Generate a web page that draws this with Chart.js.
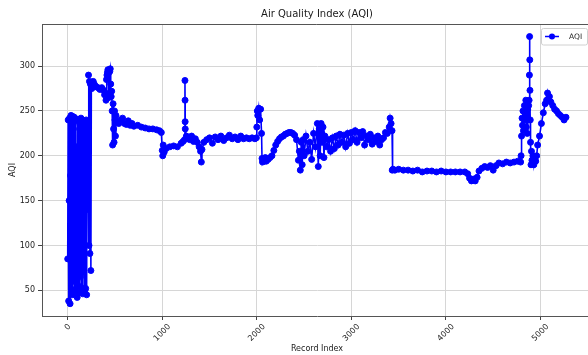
<!DOCTYPE html>
<html>
<head>
<meta charset="utf-8">
<script src="https://cdn.jsdelivr.net/npm/chart.js"></script>
<style>
  html, body { margin: 0; padding: 0; overflow: hidden; background: #fff; }
  #wrap { width: 588px; height: 355px; overflow: hidden; }
</style>
</head>
<body>
<div id="wrap"><canvas id="aqi" width="600" height="355"></canvas></div>
<script>
const chartTitle = "Air Quality Index (AQI)";
const xTitle = "Record Index";
const yTitle = "AQI";
const seriesLabel = "AQI";

const xTickValues = [0, 1000, 2000, 3000, 4000, 5000];
const yTickValues = [50, 100, 150, 200, 250, 300];

// record index of each reading
const recordIndex = [
  0, 5, 10, 15, 20, 25, 30, 35, 40, 45, 50, 55, 60, 65, 70, 75, 80, 85, 90, 95, 100, 105, 110, 115, 120, 125,
  130, 135, 140, 145, 150, 155, 160, 165, 170, 175, 180, 185, 190, 195, 200, 205, 210, 215, 220, 225, 230, 235, 240, 245, 250, 255,
  260, 270, 280, 290, 300, 320, 340, 360, 380, 390, 400, 405, 410, 415, 420, 425, 430, 435, 440, 445, 450, 455, 460, 465, 470, 475,
  480, 485, 490, 495, 500, 505, 510,
  520, 540, 560, 580, 600, 620, 640, 660, 680, 700, 740, 780, 820, 860, 900, 940, 970, 990,
  1000, 1005, 1010, 1020, 1040, 1080, 1120, 1160, 1200, 1220, 1236, 1240, 1241, 1242, 1243, 1255, 1270, 1290, 1310, 1330, 1350,
  1370, 1390, 1405, 1413, 1420, 1440, 1470, 1500, 1530, 1560, 1590, 1620, 1650, 1680, 1710, 1740, 1770, 1800, 1830, 1860, 1890,
  1920, 1950, 1980, 1995,
  2000, 2005, 2010, 2020, 2030, 2040, 2050, 2055, 2060, 2070, 2080, 2090, 2100, 2120, 2140, 2160, 2180, 2200, 2220, 2240, 2260,
  2280, 2300, 2320, 2340, 2360, 2380, 2400, 2420,
  2440, 2450, 2460, 2470, 2480, 2490, 2500, 2520, 2540, 2560, 2580, 2600, 2620, 2640, 2650, 2660, 2670, 2680, 2690, 2700, 2710,
  2720, 2740, 2760, 2780, 2800, 2820, 2840, 2860, 2880,
  2900, 2920, 2940, 2960, 2980, 3000, 3020, 3040, 3060, 3080, 3100, 3120, 3140, 3160, 3180, 3200, 3220, 3240, 3260, 3280, 3300,
  3320, 3340, 3360, 3380, 3400, 3410, 3420, 3430,
  3432, 3440, 3460, 3500, 3550, 3600, 3650, 3700, 3750, 3800, 3850, 3900, 3950, 4000, 4050, 4100, 4150, 4200, 4230, 4250, 4270,
  4290, 4310, 4330, 4350, 4380, 4410, 4440, 4470, 4500, 4530, 4560, 4600, 4640, 4680, 4720, 4760, 4790,
  4795, 4800, 4805, 4810, 4815, 4820, 4830, 4840, 4845, 4850, 4855, 4860, 4865, 4870, 4875, 4880, 4883, 4885, 4887, 4889, 4892,
  4895, 4900, 4905, 4910, 4920, 4930, 4940, 4950, 4960, 4970, 4990, 5010, 5030, 5050, 5065, 5075, 5085, 5095, 5110, 5130, 5150,
  5170, 5190, 5210, 5230, 5250, 5270
];

// AQI at each record above
const aqiValues = [
  85, 240, 38, 150, 242, 35, 178, 245, 50, 100, 244, 45, 230, 60, 243, 48, 120, 241, 52, 210, 42, 240, 55, 180, 238, 47,
  235, 65, 242, 53, 190, 240, 46, 236, 70, 238, 50, 225, 52, 240, 45, 238, 140, 236, 290, 100, 283, 91, 280, 72, 282, 275,
  281, 283, 280, 278, 277, 276, 274, 276, 273, 268, 270, 262, 285, 290, 293, 296, 292, 265, 268, 294, 297, 280, 266, 272, 250, 212,
  258, 230, 215, 250, 240, 222, 245,
  238, 236, 240, 242, 236, 235, 239, 234, 236, 233, 234, 232, 231, 230, 230, 229, 228, 226,
  206, 200, 212, 204, 208, 210, 211, 210, 214, 216, 218, 284, 262, 238, 230, 222, 220, 218, 222, 216, 219,
  215, 210, 205, 193, 207, 215, 218, 220, 214, 221, 218, 222, 217, 220, 223, 219, 221, 218, 222, 219, 220,
  219, 220, 219, 220,
  232, 250, 245, 253, 240, 252, 225, 197, 193, 196, 194, 198, 194, 196, 198, 200, 206, 212, 216, 219, 221,
  222, 224, 225, 226, 226, 225, 223, 218,
  195, 205, 184, 215, 190, 218, 200, 222, 205, 215, 196, 225, 210, 236, 188, 230, 200, 236, 215, 232, 198,
  222, 210, 218, 205, 220, 208, 222, 212, 224,
  215, 223, 210, 225, 214, 226, 218, 228, 215, 226, 220, 227, 212, 222, 218, 224, 213, 220, 216, 222, 212,
  218, 220, 226, 225, 232, 242, 236, 228,
  184, 185, 184, 185, 184, 184, 183, 184, 182, 183, 183, 182, 183, 182, 182, 182, 182, 182, 180, 175, 172,
  174, 172, 176, 183, 186, 188, 187, 189, 184, 189, 192, 191, 193, 192, 193, 194, 193,
  200, 222, 242, 234, 250, 228, 256, 240, 262, 232, 248, 225, 252, 240, 256, 262, 290, 333, 307, 273, 240,
  215, 190, 205, 195, 200, 190, 198, 194, 200, 212, 222, 236, 248, 258, 262, 270, 264, 266, 260, 256, 252,
  250, 247, 245, 243, 240, 243
];

const FONT = '"DejaVu Sans", sans-serif';
const BLUE = '#0000ff';

const decor = {
  id: 'decor',
  afterDraw(chart) {
    const { ctx, chartArea: a } = chart;
    const xs = chart.scales.x;
    const midX = (a.left + a.right) / 2;
    ctx.save();

    // top and right frame
    ctx.strokeStyle = '#555';
    ctx.lineWidth = 1;
    ctx.beginPath();
    ctx.moveTo(a.left, a.top + 0.5);
    ctx.lineTo(a.right - 0.5, a.top + 0.5);
    ctx.lineTo(a.right - 0.5, a.bottom);
    ctx.stroke();

    ctx.fillStyle = '#1a1a1a';
    ctx.textAlign = 'center';
    ctx.textBaseline = 'middle';
    ctx.font = '10px ' + FONT;
    ctx.fillText(chartTitle, midX, 14);

    ctx.font = '8px ' + FONT;
    ctx.fillText(xTitle, midX, 349);
    ctx.save();
    ctx.translate(12.5, (a.top + a.bottom) / 2);
    ctx.rotate(-Math.PI / 2);
    ctx.fillText(yTitle, 0, 0);
    ctx.restore();

    // rotated x tick labels, centred under the tick like matplotlib
    ctx.font = '8px ' + FONT;
    ctx.fillStyle = '#222';
    xTickValues.forEach(v => {
      const txt = String(v);
      const px = xs.getPixelForValue(v);
      const ext = (ctx.measureText(txt).width + 5.8) / Math.SQRT2;
      ctx.save();
      ctx.translate(px, a.bottom + 7.5 + ext / 2);
      ctx.rotate(-Math.PI / 4);
      ctx.fillText(txt, 0, 0);
      ctx.restore();
    });

    // legend
    const lx = 541.5, ly = 28.5, lw = 46, lh = 16.5;
    ctx.fillStyle = 'rgba(255,255,255,0.85)';
    ctx.strokeStyle = '#d0d0d0';
    ctx.beginPath();
    ctx.roundRect(lx, ly, lw, lh, 2);
    ctx.fill();
    ctx.stroke();
    ctx.strokeStyle = BLUE;
    ctx.lineWidth = 1.5;
    ctx.beginPath();
    ctx.moveTo(545, 36.5);
    ctx.lineTo(559, 36.5);
    ctx.stroke();
    ctx.fillStyle = BLUE;
    ctx.beginPath();
    ctx.arc(552, 36.5, 3, 0, Math.PI * 2);
    ctx.fill();
    ctx.fillStyle = '#222';
    ctx.textAlign = 'left';
    ctx.font = '7.5px ' + FONT;
    ctx.fillText(seriesLabel, 569, 37);

    ctx.restore();
  }
};

const gridOpts = { color: '#d6d6d6', lineWidth: 1, tickColor: '#444', tickLength: 4, drawTicks: true };

new Chart(document.getElementById('aqi'), {
  type: 'line',
  data: {
    datasets: [{
      label: seriesLabel,
      data: recordIndex.map((x, i) => ({ x: x, y: aqiValues[i] })),
      borderColor: BLUE,
      backgroundColor: BLUE,
      borderWidth: 1.6,
      pointRadius: 3,
      pointBorderWidth: 1,
      pointBackgroundColor: BLUE,
      pointBorderColor: BLUE,
      tension: 0,
      fill: false
    }]
  },
  options: {
    responsive: false,
    animation: false,
    devicePixelRatio: 1,
    layout: { padding: { top: 24, right: 8, left: 0, bottom: 0 } },
    plugins: {
      legend: { display: false },
      title: { display: false },
      tooltip: { enabled: false }
    },
    scales: {
      x: {
        type: 'linear',
        min: -272,
        max: 5545,
        afterBuildTicks: s => { s.ticks = xTickValues.map(v => ({ value: v })); },
        afterFit: s => { s.height = 39; },
        ticks: { display: false },
        grid: gridOpts,
        border: { display: true, color: '#555', width: 1 }
      },
      y: {
        min: 21.3,
        max: 347,
        afterBuildTicks: s => { s.ticks = yTickValues.map(v => ({ value: v })); },
        afterFit: s => { s.width = 42; },
        ticks: { font: { family: FONT, size: 8 }, color: '#222', padding: 3 },
        grid: gridOpts,
        border: { display: true, color: '#555', width: 1 }
      }
    }
  },
  plugins: [decor]
});
</script>
</body>
</html>
